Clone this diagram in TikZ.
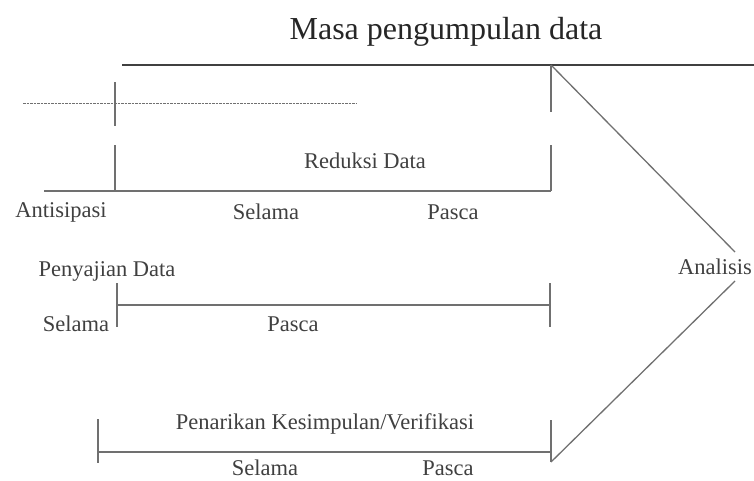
\documentclass[tikz,border=0pt]{standalone}
\usepackage{fontspec}
\setmainfont{Liberation Serif}
\usetikzlibrary{positioning}
\definecolor{linegray}{HTML}{707070}
\definecolor{txtgray}{HTML}{404040}

\begin{document}
\begin{tikzpicture}[x=1pt, y=-1pt,
    lbl/.style = {font=\fontsize{22.5}{26}\selectfont, text=txtgray, inner sep=0pt},
    bar/.style = {draw=linegray, line width=1.3pt}]
    \useasboundingbox (0,0) rectangle (754,480);
    % title and the arrow
    \node[lbl, font=\fontsize{32}{36}\selectfont, text=black!85] (masa) at (446,32) {Masa pengumpulan data};
    \coordinate (t0) at (122,65);
    \coordinate (t1) at (754,65);
    \coordinate (apex) at (551,65);
    \coordinate (tipA) at (735,252);
    \coordinate (tipB) at (735,281);
    \coordinate (foot) at (551,462);
    \node[lbl] (analisis) at (715,267) {Analisis};
    \draw[draw=black!75, line width=2.6pt] (t0) -- (t1);
    \draw[bar] (apex) -- (tipA);
    \draw[bar] (tipB) -- (foot);
    % reduksi data
    \coordinate (d0) at (23,103);
    \coordinate (d1) at (357,103);
    \draw[draw=linegray, line width=1pt, dash pattern=on 2.5pt off 1pt] (d0) -- (d1);
    \coordinate (r0) at (44,191);
    \coordinate (r1) at (551,191);
    \coordinate (ra) at (115,82);
    \coordinate (rb) at (115,126);
    \coordinate (rc) at (115,145);
    \coordinate (rd) at (115,191);
    \coordinate (re) at (551,112);
    \coordinate (rf) at (551,145);
    \draw[bar] (r0) -- (r1);
    \draw[bar] (ra) -- (rb);
    \draw[bar] (rc) -- (rd);
    \draw[bar] (apex) -- (re);
    \draw[bar] (rf) -- (r1);
    \node[lbl] (reduksi) at (365,161) {Reduksi Data};
    \node[lbl] (antisipasi) at (61,212) {Antisipasi};
    \node[lbl] (selama1) at (266,212) {Selama};
    \node[lbl] (pasca1) at (453,212) {Pasca};
    % penyajian data
    \coordinate (p0) at (117,305);
    \coordinate (p1) at (550,305);
    \coordinate (pa) at (117,283);
    \coordinate (pb) at (117,327);
    \coordinate (pc) at (550,283);
    \coordinate (pd) at (550,327);
    \draw[bar] (p0) -- (p1);
    \draw[bar] (pa) -- (pb);
    \draw[bar] (pc) -- (pd);
    \node[lbl] (penyajian) at (107,271) {Penyajian Data};
    \node[lbl] (selama2) at (76,324) {Selama};
    \node[lbl] (pasca2) at (293,324) {Pasca};
    % penarikan kesimpulan
    \coordinate (k0) at (98,452);
    \coordinate (k1) at (551,452);
    \coordinate (ka) at (98,419);
    \coordinate (kb) at (98,463);
    \coordinate (kc) at (551,420);
    \draw[bar] (k0) -- (k1);
    \draw[bar] (ka) -- (kb);
    \draw[bar] (kc) -- (foot);
    \node[lbl] (penarikan) at (325,424) {Penarikan Kesimpulan/Verifikasi};
    \node[lbl] (selama3) at (265,468) {Selama};
    \node[lbl] (pasca3) at (448,468) {Pasca};
\end{tikzpicture}
\end{document}
